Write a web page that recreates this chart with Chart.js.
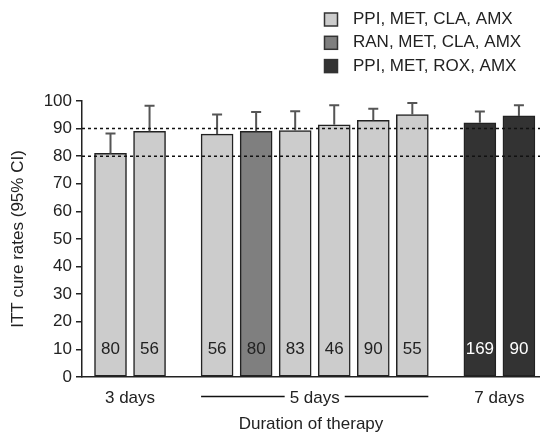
<!DOCTYPE html>
<html>
<head>
<meta charset="utf-8">
<script src="https://cdn.jsdelivr.net/npm/chart.js@4.4.1/dist/chart.umd.min.js"></script>
<style>
    html, body { margin: 0; padding: 0; background: #ffffff; }
    #wrap { width: 540px; height: 436px; }
</style>
</head>
<body>
<div id="wrap"><canvas id="cureChart" width="540" height="436"></canvas></div>
<script>
// Chart data
const regimens = ['PPI, MET, CLA, AMX', 'RAN, MET, CLA, AMX', 'PPI, MET, ROX, AMX'];
const durations = ['3 days', '5 days', '7 days'];
const barDuration = [0, 0, 1, 1, 1, 1, 1, 1, 2, 2];
const barRegimen = [0, 0, 0, 1, 0, 0, 0, 0, 2, 2];
const cureRates = [81, 89, 88, 89, 89.3, 91.4, 93, 95.1, 92.1, 94.6];
const upperCI = [88.2, 98.3, 95.1, 96, 96.3, 98.5, 97.2, 99.3, 96.2, 98.5];
const patients = [80, 56, 56, 80, 83, 46, 90, 55, 169, 90];
const refLines = [80, 90];

// Styling
const FONT = '"Liberation Sans", Arial, Helvetica, sans-serif';
const TEXT = '#222222';
const FILLS = ['#cccccc', '#7f7f7f', '#333333'];
const COUNT_COLORS = ['#222222', '#222222', '#ffffff'];
const GROUP_GAP = 0.73;   // extra space between duration groups (in bar slots)

const xPos = barDuration.map((g, i) => i + g * GROUP_GAP);
const groupCenters = durations.map((_, g) => {
    const xs = xPos.filter((_, i) => barDuration[i] === g);
    return (Math.min(...xs) + Math.max(...xs)) / 2;
});

const datasets = regimens.map((name, r) => ({
    label: name,
    data: xPos.map((x, i) => ({ x: x, y: cureRates[i], i: i }))
              .filter(p => barRegimen[p.i] === r),
    backgroundColor: FILLS[r],
    borderColor: '#222222',
    borderWidth: 1.5,
    borderSkipped: false,
    barThickness: 32,
    grouped: false
}));

// Error bars, reference lines, counts, group brackets, legend
const decorPlugin = {
    id: 'decor',
    afterDatasetsDraw(chart) {
        const { ctx, chartArea, scales: { x, y } } = chart;
        ctx.save();

        // upper CI whiskers
        ctx.strokeStyle = '#555555';
        ctx.lineWidth = 2;
        xPos.forEach((xv, i) => {
            const px = x.getPixelForValue(xv);
            const top = y.getPixelForValue(cureRates[i]);
            const hi = y.getPixelForValue(upperCI[i]);
            ctx.beginPath();
            ctx.moveTo(px, top);
            ctx.lineTo(px, hi);
            ctx.moveTo(px - 5, hi);
            ctx.lineTo(px + 5, hi);
            ctx.stroke();
        });

        // dotted reference lines
        ctx.strokeStyle = '#111111';
        ctx.lineWidth = 1.5;
        ctx.setLineDash([3, 3]);
        refLines.forEach(v => {
            const py = y.getPixelForValue(v);
            ctx.beginPath();
            ctx.moveTo(chartArea.left, py);
            ctx.lineTo(chartArea.right, py);
            ctx.stroke();
        });
        ctx.setLineDash([]);

        // patient counts inside bars
        ctx.font = '17px ' + FONT;
        ctx.textAlign = 'center';
        ctx.textBaseline = 'middle';
        patients.forEach((n, i) => {
            ctx.fillStyle = COUNT_COLORS[barRegimen[i]];
            ctx.fillText(String(n), x.getPixelForValue(xPos[i]), y.getPixelForValue(10));
        });
        ctx.restore();
    },
    afterDraw(chart) {
        const { ctx, scales: { x } } = chart;
        ctx.save();

        // bracket lines around the "5 days" label
        const g = 1;
        const xs = xPos.filter((_, i) => barDuration[i] === g);
        const left = x.getPixelForValue(Math.min(...xs)) - 16;
        const right = x.getPixelForValue(Math.max(...xs)) + 16;
        const cx = x.getPixelForValue(groupCenters[g]);
        ctx.font = '17px ' + FONT;
        const half = ctx.measureText(durations[g]).width / 2 + 5;
        const ly = x.bottom - 39.5;
        ctx.strokeStyle = '#111111';
        ctx.lineWidth = 1.3;
        ctx.beginPath();
        ctx.moveTo(left, ly);
        ctx.lineTo(cx - half, ly);
        ctx.moveTo(cx + half, ly);
        ctx.lineTo(right, ly);
        ctx.stroke();

        // legend
        ctx.textAlign = 'left';
        ctx.textBaseline = 'middle';
        regimens.forEach((name, r) => {
            const rowY = 19.5 + r * 23.3;
            ctx.fillStyle = FILLS[r];
            ctx.fillRect(324.5, rowY - 6.5, 13, 13);
            ctx.strokeStyle = '#333333';
            ctx.lineWidth = 1.5;
            ctx.strokeRect(324.5, rowY - 6.5, 13, 13);
            ctx.fillStyle = TEXT;
            ctx.fillText(name, 353, rowY);
        });
        ctx.restore();
    }
};

const ctx = document.getElementById('cureChart').getContext('2d');
const chart = new Chart(ctx, {
    type: 'bar',
    data: { datasets: datasets },
    options: {
        responsive: false,
        animation: false,
        devicePixelRatio: 1,
        layout: { padding: { top: 101, right: 0, bottom: 0, left: 0 } },
        plugins: {
            legend: { display: false },
            tooltip: { enabled: false }
        },
        scales: {
            x: {
                type: 'linear',
                offset: false,
                min: -0.73,
                max: 11.0,
                afterFit: s => { s.height = 59; },
                afterBuildTicks: s => { s.ticks = groupCenters.map(v => ({ value: v })); },
                grid: { display: false, drawTicks: false, offset: false },
                border: { display: true, color: '#222222', width: 1.5 },
                ticks: {
                    autoSkip: false,
                    maxRotation: 0,
                    padding: 11,
                    color: TEXT,
                    font: { family: FONT, size: 17 },
                    callback: (v, idx) => durations[idx]
                },
                title: {
                    display: true,
                    text: 'Duration of therapy',
                    color: TEXT,
                    font: { family: FONT, size: 17 },
                    padding: { top: 0, bottom: 1 }
                }
            },
            y: {
                min: 0,
                max: 100,
                afterFit: s => { s.width = 82; },
                ticks: {
                    stepSize: 10,
                    padding: 4,
                    color: TEXT,
                    font: { family: FONT, size: 17 }
                },
                grid: { drawOnChartArea: false, tickLength: 6, color: '#222222', lineWidth: 1.5 },
                border: { color: '#222222', width: 1.5 },
                title: {
                    display: true,
                    text: 'ITT cure rates (95% CI)',
                    color: TEXT,
                    font: { family: FONT, size: 17 },
                    padding: { top: 8, bottom: 0 }
                }
            }
        }
    },
    plugins: [decorPlugin]
});
</script>
</body>
</html>
